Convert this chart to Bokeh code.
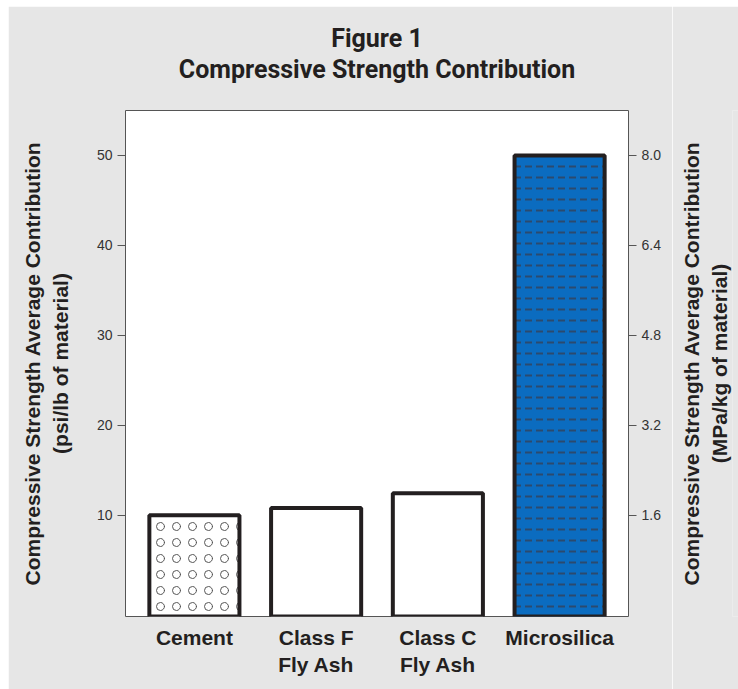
from bokeh.plotting import figure
from bokeh.layouts import row
from bokeh.models import (FactorRange, Range1d, LinearAxis, CategoricalAxis, FixedTicker,
                          ColumnDataSource, PrintfTickFormatter)
from bokeh.embed import file_html
from bokeh.resources import INLINE

categories = ["Cement", "Class F\nFly Ash", "Class C\nFly Ash", "Microsilica"]
values_psi = [10.0, 10.8, 12.45, 50.0]
left_ticks = [10, 20, 30, 40, 50]
right_ticks = [1.6, 3.2, 4.8, 6.4, 8.0]
psi_to_mpa = 0.16

title_text = "Figure 1\nCompressive Strength Contribution"
left_label = "Compressive Strength Average Contribution\n(psi/lb of material)"
right_label = "Compressive Strength Average Contribution\n(MPa/kg of material)"

Y0, Y1 = -1.25, 55.0

bg = "#e6e6e6"
font = "Liberation Sans"
ink = "#231f20"
H, TOP, BOT = 683, 104, 73

p = figure(width=664, height=H, margin=(6, 0, 0, 8),
           x_range=FactorRange(*categories, range_padding=0.033),
           y_range=Range1d(Y0, Y1),
           output_backend="svg", toolbar_location=None,
           min_border_left=117, min_border_right=44,
           min_border_top=TOP, min_border_bottom=BOT)
p.extra_y_ranges = {"mpa": Range1d(Y0 * psi_to_mpa, Y1 * psi_to_mpa)}

p.background_fill_color = "white"
p.border_fill_color = bg
p.outline_line_color = "#555555"
p.outline_line_width = 1
p.xgrid.visible = False
p.ygrid.visible = False

# bars
bottoms = [Y0] * len(categories)
styles = [
    dict(fill_color="white", hatch_pattern="ring", hatch_color="#555555", hatch_scale=16, hatch_weight=1),
    dict(fill_color="white"),
    dict(fill_color="white"),
    dict(fill_color="#0b6cc0", hatch_pattern="horizontal_dash", hatch_color="#2b4a6e", hatch_scale=11, hatch_weight=2),
]
for cat, v, b, st in zip(categories, values_psi, bottoms, styles):
    src = ColumnDataSource(dict(x=[cat], top=[v], bottom=[b]))
    p.vbar(x="x", top="top", bottom="bottom", width=0.74, source=src,
           line_color=ink, line_width=4, **st)

# left axis
ya = p.yaxis[0]
ya.ticker = FixedTicker(ticks=left_ticks)
ya.axis_line_color = None
ya.major_tick_line_color = "#555555"
ya.major_tick_out = 8
ya.major_tick_in = 0
ya.minor_tick_line_color = None
ya.major_label_text_font = font
ya.major_label_text_font_size = "14px"
ya.major_label_text_color = "#333333"
ya.major_label_standoff = 5
ya.axis_label = left_label
ya.axis_label_text_font = font
ya.axis_label_text_font_style = "bold"
ya.axis_label_text_font_size = "21px"
ya.axis_label_text_color = ink
ya.axis_label_standoff = 22

# right axis (ticks)
ra = LinearAxis(y_range_name="mpa", ticker=FixedTicker(ticks=right_ticks),
                formatter=PrintfTickFormatter(format="%.1f"))
ra.axis_line_color = None
ra.major_tick_line_color = "#555555"
ra.major_tick_out = 8
ra.major_tick_in = 0
ra.minor_tick_line_color = None
ra.major_label_text_font = font
ra.major_label_text_font_size = "14px"
ra.major_label_text_color = "#333333"
ra.major_label_standoff = 5
p.add_layout(ra, "right")

# bottom axis
xa = p.xaxis[0]
xa.axis_line_color = None
xa.major_tick_line_color = None
xa.minor_tick_line_color = None
xa.major_label_text_font = font
xa.major_label_text_font_style = "bold"
xa.major_label_text_font_size = "21px"
xa.major_label_text_color = ink
xa.major_label_standoff = 3

# title drawn as the label of an empty axis above the plot
ta = CategoricalAxis(ticker=FixedTicker(ticks=[]))
ta.axis_line_color = None
ta.major_tick_line_color = None
ta.minor_tick_line_color = None
ta.axis_label = title_text
ta.axis_label_text_font = "Roboto"
ta.axis_label_text_font_style = "bold"
ta.axis_label_text_font_size = "25px"
ta.axis_label_text_line_height = 1.05
ta.axis_label_text_color = ink
ta.axis_label_standoff = 27
p.add_layout(ta, "above")

# narrow side panel carrying the right-hand axis title (reads bottom to top)
s = figure(width=66, height=H, margin=(6, 0, 0, 0),
           y_range=p.y_range, x_range=Range1d(0, 1),
           output_backend="svg", toolbar_location=None,
           min_border_left=60, min_border_right=0,
           min_border_top=TOP, min_border_bottom=BOT)
s.background_fill_color = bg
s.border_fill_color = bg
s.outline_line_color = None
s.xgrid.visible = False
s.ygrid.visible = False
s.xaxis.visible = False
sa = s.yaxis[0]
sa.ticker = FixedTicker(ticks=[])
sa.axis_line_color = None
sa.major_tick_line_color = None
sa.minor_tick_line_color = None
sa.axis_label = right_label
sa.axis_label_text_font = font
sa.axis_label_text_font_style = "bold"
sa.axis_label_text_font_size = "21px"
sa.axis_label_text_color = ink
sa.axis_label_standoff = 2

layout = row(p, s, spacing=0)
open("out.html", "w").write(file_html(layout, INLINE))
